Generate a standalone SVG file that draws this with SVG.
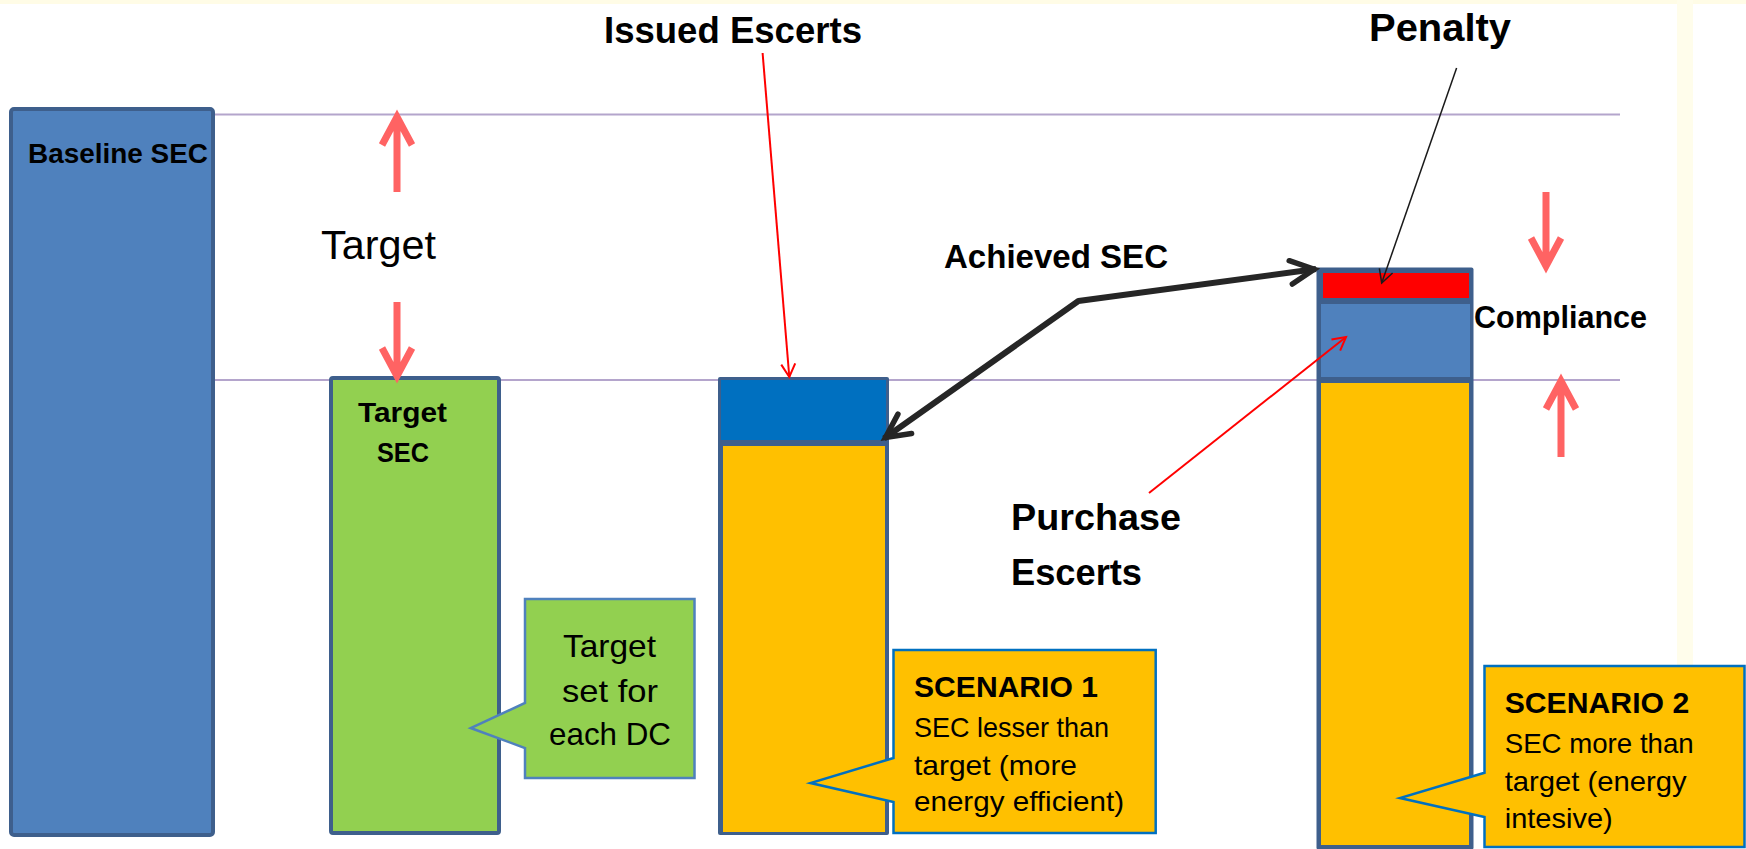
<svg xmlns="http://www.w3.org/2000/svg" width="1746" height="849" viewBox="0 0 1746 849">
<defs>
<style>
.b{font-family:"Liberation Sans",Arial,sans-serif;font-weight:bold;fill:#000}
.r{font-family:"Liberation Sans",Arial,sans-serif;font-weight:normal;fill:#000}
.guide{stroke:#B4A5CC;stroke-width:2;fill:none}
.frame{fill:#3E5F8C}
.bigred{stroke:#FF6363;stroke-width:7;fill:none;stroke-linecap:butt;stroke-linejoin:miter}
.thinred{stroke:#FF0000;stroke-width:2;fill:none}
.thinblk{stroke:#1A1A1A;stroke-width:1.5;fill:none}
.thick{stroke:#262626;stroke-width:6;fill:none;stroke-linejoin:round}
</style>
<marker id="mThick" markerUnits="userSpaceOnUse" orient="auto-start-reverse" refX="0" refY="0" markerWidth="40" markerHeight="40" viewBox="-40 -20 44 40" overflow="visible">
<path d="M-28,-13 L-2,0 L-28,13" fill="none" stroke="#262626" stroke-width="6" stroke-linecap="round" stroke-linejoin="miter"/>
</marker>
<marker id="mRed" markerUnits="userSpaceOnUse" orient="auto" refX="0" refY="0" markerWidth="20" markerHeight="20" viewBox="-16 -10 20 20" overflow="visible">
<path d="M-13,-7 L0,0 L-13,7" fill="none" stroke="#FF0000" stroke-width="2"/>
</marker>
<marker id="mBlk" markerUnits="userSpaceOnUse" orient="auto" refX="0" refY="0" markerWidth="20" markerHeight="20" viewBox="-16 -10 20 20" overflow="visible">
<path d="M-13,-7 L0,0 L-13,7" fill="none" stroke="#1A1A1A" stroke-width="1.5"/>
</marker>
</defs>

<rect x="0" y="0" width="1746" height="849" fill="#FFFFFF"/>
<rect x="0" y="0" width="1746" height="4" fill="#FFFCE6"/>
<rect x="1677" y="0" width="16" height="849" fill="#FFFDEB"/>

<g id="guides">
<line class="guide" x1="210" y1="114.5" x2="1620" y2="114.5"/>
<line class="guide" x1="210" y1="380" x2="1620" y2="380"/>
</g>

<g id="baseline-bar">
<rect x="11" y="109" width="202" height="726" rx="3" fill="#4F81BD" stroke="#3E5F8C" stroke-width="4"/>
<text class="b" x="28" y="163" font-size="28" textLength="180" lengthAdjust="spacingAndGlyphs">Baseline SEC</text>
</g>

<g id="target-bar">
<rect x="331" y="378" width="168" height="455" rx="2" fill="#92D050" stroke="#3E5F8C" stroke-width="4"/>
<text class="b" x="358" y="422" font-size="28" textLength="89" lengthAdjust="spacingAndGlyphs">Target</text>
<text class="b" x="377" y="462" font-size="28" textLength="52" lengthAdjust="spacingAndGlyphs">SEC</text>
</g>

<g id="scenario1-bar">
<rect class="frame" x="718" y="377" width="171" height="458" rx="2"/>
<rect x="721" y="380" width="165" height="60" fill="#0070C0"/>
<rect x="723" y="446" width="162" height="386" fill="#FFC000"/>
</g>

<g id="scenario2-bar">
<rect class="frame" x="1316.5" y="267.5" width="157" height="582" rx="2"/>
<rect x="1323" y="273" width="146" height="25" fill="#FF0000"/>
<rect x="1321" y="304" width="149" height="73" fill="#4F81BD"/>
<rect x="1321" y="383" width="148" height="462" fill="#FFC000"/>
</g>

<g id="target-arrows">
<path class="bigred" d="M397,192 V122 M382,145 L397,117 L412,145"/>
<path class="bigred" d="M397,302 V372 M382,348 L397,376 L412,348"/>
</g>

<g id="compliance-arrows">
<path class="bigred" d="M1546,192 V262 M1531,238 L1546,266 L1561,238"/>
<path class="bigred" d="M1561,457 V386 M1546,409 L1561,381 L1576,409"/>
</g>

<g id="labels">
<text class="r" x="321" y="259" font-size="40" textLength="115" lengthAdjust="spacingAndGlyphs">Target</text>
<text class="b" x="604" y="43" font-size="37" textLength="258" lengthAdjust="spacingAndGlyphs">Issued Escerts</text>
<text class="b" x="944" y="268" font-size="34" textLength="224" lengthAdjust="spacingAndGlyphs">Achieved SEC</text>
<text class="b" x="1369" y="41" font-size="39" textLength="142" lengthAdjust="spacingAndGlyphs">Penalty</text>
<text class="b" x="1474" y="328" font-size="31" textLength="173" lengthAdjust="spacingAndGlyphs">Compliance</text>
<text class="b" x="1011" y="530" font-size="36" textLength="170" lengthAdjust="spacingAndGlyphs">Purchase</text>
<text class="b" x="1011" y="585" font-size="36" textLength="131" lengthAdjust="spacingAndGlyphs">Escerts</text>
</g>

<g id="connectors">
<line class="thinred" x1="762.6" y1="53" x2="789.3" y2="377" marker-end="url(#mRed)"/>
<line class="thinred" x1="1149" y1="493" x2="1346" y2="337" marker-end="url(#mRed)"/>
<line class="thinblk" x1="1456.6" y1="68" x2="1381.7" y2="283" marker-end="url(#mBlk)"/>
<polyline class="thick" points="884,438.5 1078.4,301 1316,269" marker-start="url(#mThick)" marker-end="url(#mThick)"/>
</g>

<g id="callout-target">
<path d="M525,599 H694.5 V778 H525 V748 L470.7,728 L525,703 Z" fill="#92D050" stroke="#4F81BD" stroke-width="2.5"/>
<text class="r" x="563" y="657" font-size="32" textLength="93" lengthAdjust="spacingAndGlyphs">Target</text>
<text class="r" x="562" y="702" font-size="32" textLength="96" lengthAdjust="spacingAndGlyphs">set for</text>
<text class="r" x="549" y="745" font-size="32" textLength="122" lengthAdjust="spacingAndGlyphs">each DC</text>
</g>

<g id="callout-scenario1">
<path d="M893.5,650 H1155.7 V833 H893.5 V802 L810.5,783 L893.5,758 Z" fill="#FFC000" stroke="#0070C0" stroke-width="2.5"/>
<text class="b" x="914" y="697" font-size="30" textLength="184" lengthAdjust="spacingAndGlyphs">SCENARIO 1</text>
<text class="r" x="914" y="737" font-size="28" textLength="195" lengthAdjust="spacingAndGlyphs">SEC lesser than</text>
<text class="r" x="914" y="775" font-size="28" textLength="163" lengthAdjust="spacingAndGlyphs">target (more</text>
<text class="r" x="914" y="811" font-size="28" textLength="210" lengthAdjust="spacingAndGlyphs">energy efficient)</text>
</g>

<g id="callout-scenario2">
<path d="M1484.5,666 H1744.5 V847 H1484.5 V817 L1400,798 L1484.5,772.7 Z" fill="#FFC000" stroke="#0070C0" stroke-width="2.5"/>
<text class="b" x="1504.7" y="713" font-size="30" textLength="184.5" lengthAdjust="spacingAndGlyphs">SCENARIO 2</text>
<text class="r" x="1504.7" y="753" font-size="28" textLength="189" lengthAdjust="spacingAndGlyphs">SEC more than</text>
<text class="r" x="1504.7" y="791" font-size="28" textLength="182" lengthAdjust="spacingAndGlyphs">target (energy</text>
<text class="r" x="1504.7" y="828" font-size="28" textLength="108" lengthAdjust="spacingAndGlyphs">intesive)</text>
</g>
</svg>
